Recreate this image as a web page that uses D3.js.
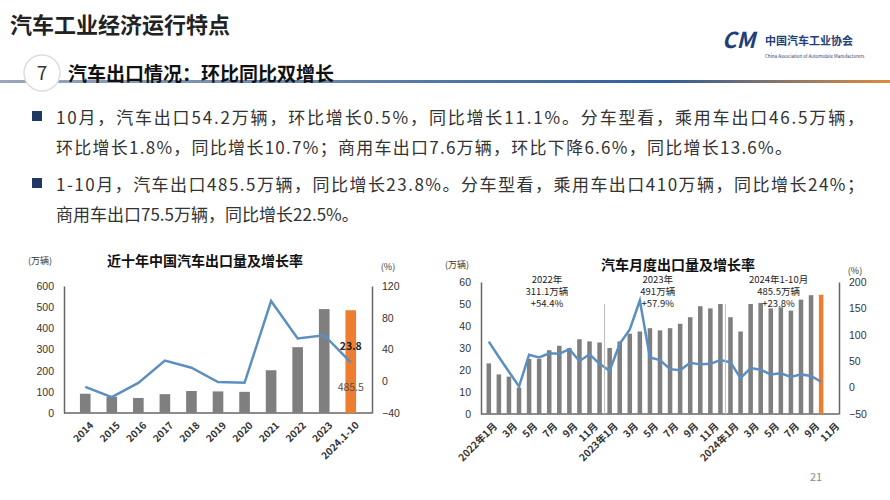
<!DOCTYPE html>
<html><head><meta charset="utf-8">
<script src="https://cdn.jsdelivr.net/npm/d3@7"></script>
<style>body{margin:0;background:#fff}svg{display:block;font-family:"Noto Sans CJK SC","Noto Sans",sans-serif}</style>
</head><body><svg id="c" width="890" height="500"></svg>
<script>
// annual exports (万辆) and growth (%)
const years = ['2014','2015','2016','2017','2018','2019','2020','2021','2022','2023','2024.1-10']
const yearVolume = [91, 76, 71, 89, 104, 102, 100, 202, 311, 491, 485.5]
const yearGrowth = [-7, -20, -2, 26, 17, -1, -2, 101, 54, 58, 23.8]

// monthly exports 2022-01 .. 2024-10, axis runs to 2024-11
const months = []
for (const y of [2022, 2023, 2024]) for (let m = 1; m <= 12; m++) if (!(y === 2024 && m > 11)) months.push(y + '-' + m)
const monthVolume = [23, 18, 17, 12, 25, 25, 29, 31, 30, 34, 33, 32.5,
  30, 33, 36.5, 37.5, 39, 38, 39, 41, 44, 49, 48, 50,
  44, 37.5, 50, 50.5, 48, 48.5, 47, 52, 54, 54.2]
const monthGrowth = [87, 58, 30, 2, 62, 57, 65, 64, 73, 50, 63, 45,
  32, 83, 110, 165, 57, 52, 35, 33, 47, 44, 45, 52,
  48, 18, 37, 34, 25, 27, 20, 25, 22, 11.1]

const svg = d3.select('#c')
const grey = '#7f7f7f', orange = '#ed7d31', blue = '#5b8fc1', txt = '#333'

// header
svg.append('text').attr('x', 10).attr('y', 33).attr('font-size', 22).attr('font-weight', 'bold').attr('fill', '#222').text('汽车工业经济运行特点')
svg.append('text').attr('x', 722).attr('y', 48).attr('font-size', 22).attr('font-weight', 'bold').attr('font-style', 'italic').attr('fill', '#1f3f7a').text('CM')
svg.append('text').attr('x', 765).attr('y', 45).attr('font-size', 11).attr('font-weight', 'bold').attr('fill', '#1f3f7a').text('中国汽车工业协会')
svg.append('text').attr('x', 765).attr('y', 58).attr('font-size', 4.5).attr('fill', '#1f3f7a').text('China Association of Automobile Manufacturers')
const grad = svg.append('defs').append('linearGradient').attr('id', 'hg')
grad.append('stop').attr('offset', '0%').attr('stop-color', '#9aa7b8')
grad.append('stop').attr('offset', '75%').attr('stop-color', '#2f5f9a')
grad.append('stop').attr('offset', '100%').attr('stop-color', '#e08a3c')
svg.append('rect').attr('x', 0).attr('y', 80).attr('width', 890).attr('height', 3).attr('fill', 'url(#hg)')

svg.append('circle').attr('cx', 42).attr('cy', 73).attr('r', 18).attr('fill', '#fff').attr('stroke', '#ddd').attr('stroke-width', 1.5)
svg.append('text').attr('x', 42).attr('y', 80).attr('text-anchor', 'middle').attr('font-size', 19).attr('fill', '#333').text('7')
svg.append('text').attr('x', 68).attr('y', 81).attr('font-size', 19).attr('font-weight', 'bold').attr('fill', '#111').text('汽车出口情况：环比同比双增长')

const lines = [
  [true, '10月，汽车出口54.2万辆，环比增长0.5%，同比增长11.1%。分车型看，乘用车出口46.5万辆，'],
  [false, '环比增长1.8%，同比增长10.7%；商用车出口7.6万辆，环比下降6.6%，同比增长13.6%。'],
  [true, '1-10月，汽车出口485.5万辆，同比增长23.8%。分车型看，乘用车出口410万辆，同比增长24%；'],
  [false, '商用车出口75.5万辆，同比增长22.5%。']
]
const ly = [124, 154, 191, 221]
lines.forEach((l, i) => {
  if (l[0]) svg.append('rect').attr('x', 32).attr('y', ly[i] - 13).attr('width', 10).attr('height', 10).attr('fill', '#1f3864')
  svg.append('text').attr('x', 56).attr('y', ly[i]).attr('font-size', 17).attr('fill', '#333').attr('textLength', i === 3 ? null : (i === 1 ? 736 : 808)).text(l[1])
})
svg.append('text').attr('x', 810).attr('y', 481).attr('font-size', 11).attr('fill', '#888').text('21')

function chart(o) {
  const g = svg.append('g')
  const x = d3.scaleBand().domain(o.cats).range([o.x0, o.x1]).padding(o.pad)
  const yl = d3.scaleLinear().domain(o.ld).range([o.yb, o.yt])
  const yr = d3.scaleLinear().domain(o.rd).range([o.yb, o.yt])
  const styleAx = a => {
    a.select('.domain').attr('stroke', '#666').attr('stroke-width', 1.5)
    a.selectAll('.tick line').remove()
    a.selectAll('text').attr('font-size', 10.5).attr('fill', txt).attr('font-family', 'Liberation Sans, sans-serif')
  }
  g.append('g').attr('transform', `translate(${o.x0},0)`).call(d3.axisLeft(yl).tickValues(o.lt).tickSize(0).tickPadding(10)).call(styleAx)
  g.append('g').attr('transform', `translate(${o.x1},0)`).call(d3.axisRight(yr).tickValues(o.rt).tickSize(0).tickPadding(10)).call(styleAx)
  g.append('line').attr('x1', o.x0).attr('x2', o.x1).attr('y1', o.yb).attr('y2', o.yb).attr('stroke', '#666').attr('stroke-width', 1.5)
  g.selectAll('.bar').data(o.vol).join('rect')
    .attr('x', (d, i) => x(o.cats[i])).attr('width', x.bandwidth())
    .attr('y', d => yl(d)).attr('height', d => yl(0) - yl(d))
    .attr('fill', (d, i) => i === o.vol.length - 1 ? orange : grey)
  g.append('path').datum(o.gr).attr('fill', 'none').attr('stroke', blue).attr('stroke-width', 2.5)
    .attr('d', d3.line().x((d, i) => x(o.cats[i]) + x.bandwidth() / 2).y(d => yr(d)))
  const lab = g.append('g')
  o.cats.forEach((c, i) => {
    if (!o.showLab(i)) return
    const cx = x(c) + x.bandwidth() / 2
    lab.append('text').attr('transform', `translate(${cx + 4},${o.yb + 8}) rotate(-45)`)
      .attr('text-anchor', 'end').attr('dy', '0.7em').attr('font-size', 10).attr('font-weight', 'bold').attr('fill', txt).text(o.fmt(c, i))
  })
  g.append('text').attr('x', o.tx).attr('y', o.ty).attr('text-anchor', 'middle').attr('font-size', 14).attr('font-weight', 'bold').attr('fill', '#111').text(o.title)
  g.append('text').attr('x', o.x0 - 24).attr('y', o.ty - 2).attr('text-anchor', 'middle').attr('font-size', 9).attr('fill', txt).text('(万辆)')
  g.append('text').attr('x', o.x1 + 16).attr('y', o.ty + 4).attr('text-anchor', 'middle').attr('font-size', 9).attr('fill', txt).text('(%)')
  return { x, yl, yr, g }
}

const L = chart({
  cats: years, vol: yearVolume, gr: yearGrowth, x0: 64, x1: 372, yb: 413, yt: 286, pad: 0.6,
  ld: [0, 600], lt: d3.range(0, 601, 100), rd: [-40, 120], rt: [-40, 0, 40, 80, 120],
  showLab: () => true, fmt: c => c, tx: 205, ty: 266, title: '近十年中国汽车出口量及增长率'
})
const lastX = L.x(years[10]) + L.x.bandwidth() / 2
L.g.append('text').attr('x', lastX).attr('y', L.yr(yearGrowth[10]) - 12).attr('text-anchor', 'middle').attr('font-size', 10.5).attr('font-weight', 'bold').attr('fill', '#222').text(yearGrowth[10])
L.g.append('text').attr('x', lastX).attr('y', L.yl(0) - 22).attr('text-anchor', 'middle').attr('font-size', 10.5).attr('fill', '#555').text(yearVolume[10])

const R = chart({
  cats: months, vol: monthVolume, gr: monthGrowth, x0: 481, x1: 839, yb: 414, yt: 282, pad: 0.55,
  ld: [0, 60], lt: d3.range(0, 61, 10), rd: [-50, 200], rt: [-50, 0, 50, 100, 150, 200],
  showLab: i => i % 2 === 0,
  fmt: (c, i) => { const [y, m] = c.split('-'); return m === '1' ? y + '年1月' : m + '月' },
  tx: 678, ty: 270, title: '汽车月度出口量及增长率'
})
// year separators
;[12, 24].forEach(i => {
  const sx = R.x(months[i]) - R.x.step() * 0.28
  R.g.append('line').attr('x1', sx).attr('x2', sx).attr('y1', R.yl(50)).attr('y2', R.yl(0)).attr('stroke', '#bbb').attr('stroke-width', 1)
})
const notes = [[6, ['2022年', '311.1万辆', '+54.4%']], [17, ['2023年', '491万辆', '+57.9%']], [29, ['2024年1-10月', '485.5万辆', '+23.8%']]]
notes.forEach(([i, t]) => {
  const cx = R.x(months[i])
  t.forEach((s, k) => R.g.append('text').attr('x', cx).attr('y', 283 + k * 12).attr('text-anchor', 'middle').attr('font-size', 9.5).attr('fill', '#222').text(s))
})
</script></body></html>
